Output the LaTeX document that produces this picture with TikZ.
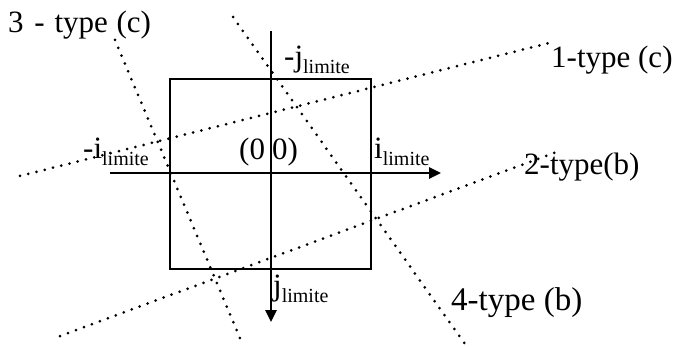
\documentclass[tikz,border=0pt]{standalone}
\usepackage{fontspec}
\setmainfont{Liberation Serif}
\usetikzlibrary{arrows.meta}
% index with the "limite" subscript
\newcommand{\limidx}[1]{#1\raisebox{-7pt}{\fontsize{20}{20}\selectfont limite}}
\begin{document}
\begin{tikzpicture}[x=1pt,y=-1pt,
  lbl/.style={inner sep=0pt,anchor=base west,font=\fontsize{31}{37}\selectfont},
  frame/.style={line width=2.6pt},
  axis/.style={line width=2.6pt,-{Triangle[length=12pt,width=11pt]}},
  dotline/.style={line width=3pt,line cap=round,dash pattern=on 0pt off 8.5pt}]
\useasboundingbox (0,0) rectangle (676,347);

% limit square
\draw[frame] (170,79) rectangle (371,269);

% coordinate axes
\coordinate (ia) at (110,173);
\coordinate (ib) at (441,173);
\coordinate (ja) at (271,31);
\coordinate (jb) at (271,322);
\draw[axis] (ia) -- (ib);
\draw[axis] (ja) -- (jb);

% dotted boundary lines
\coordinate (l1a) at (20,176);  \coordinate (l1b) at (553,42);
\coordinate (l2a) at (60,336);  \coordinate (l2b) at (562,150);
\coordinate (l3a) at (115,40);  \coordinate (l3b) at (242,343);
\coordinate (l4a) at (233,17);  \coordinate (l4b) at (465,344);
\draw[dotline] (l1a) -- (l1b);
\draw[dotline] (l2a) -- (l2b);
\draw[dotline] (l3a) -- (l3b);
\draw[dotline] (l4a) -- (l4b);

% labels
\node[lbl] (t3) at (8,33) {3\hspace{3pt} - \hspace{2pt}type\hspace{1pt} (c)};
\node[lbl] (t1) at (551,68) {1-type (c)};
\node[lbl] (t2) at (524,175) {2-type(b)};
\node[lbl,font=\fontsize{33}{39}\selectfont] (t4) at (451,310) {4-type (b)};
\node[lbl] (o) at (239,160) {(0\hspace{7pt}0)};
\node[lbl] (mi) at (83,159) {\limidx{-i}};
\node[lbl] (pi) at (374,159) {\limidx{i}};
\node[lbl] (mj) at (284,67) {\limidx{-j}};
\node[lbl] (pj) at (273,295) {\limidx{j}};
\end{tikzpicture}
\end{document}
